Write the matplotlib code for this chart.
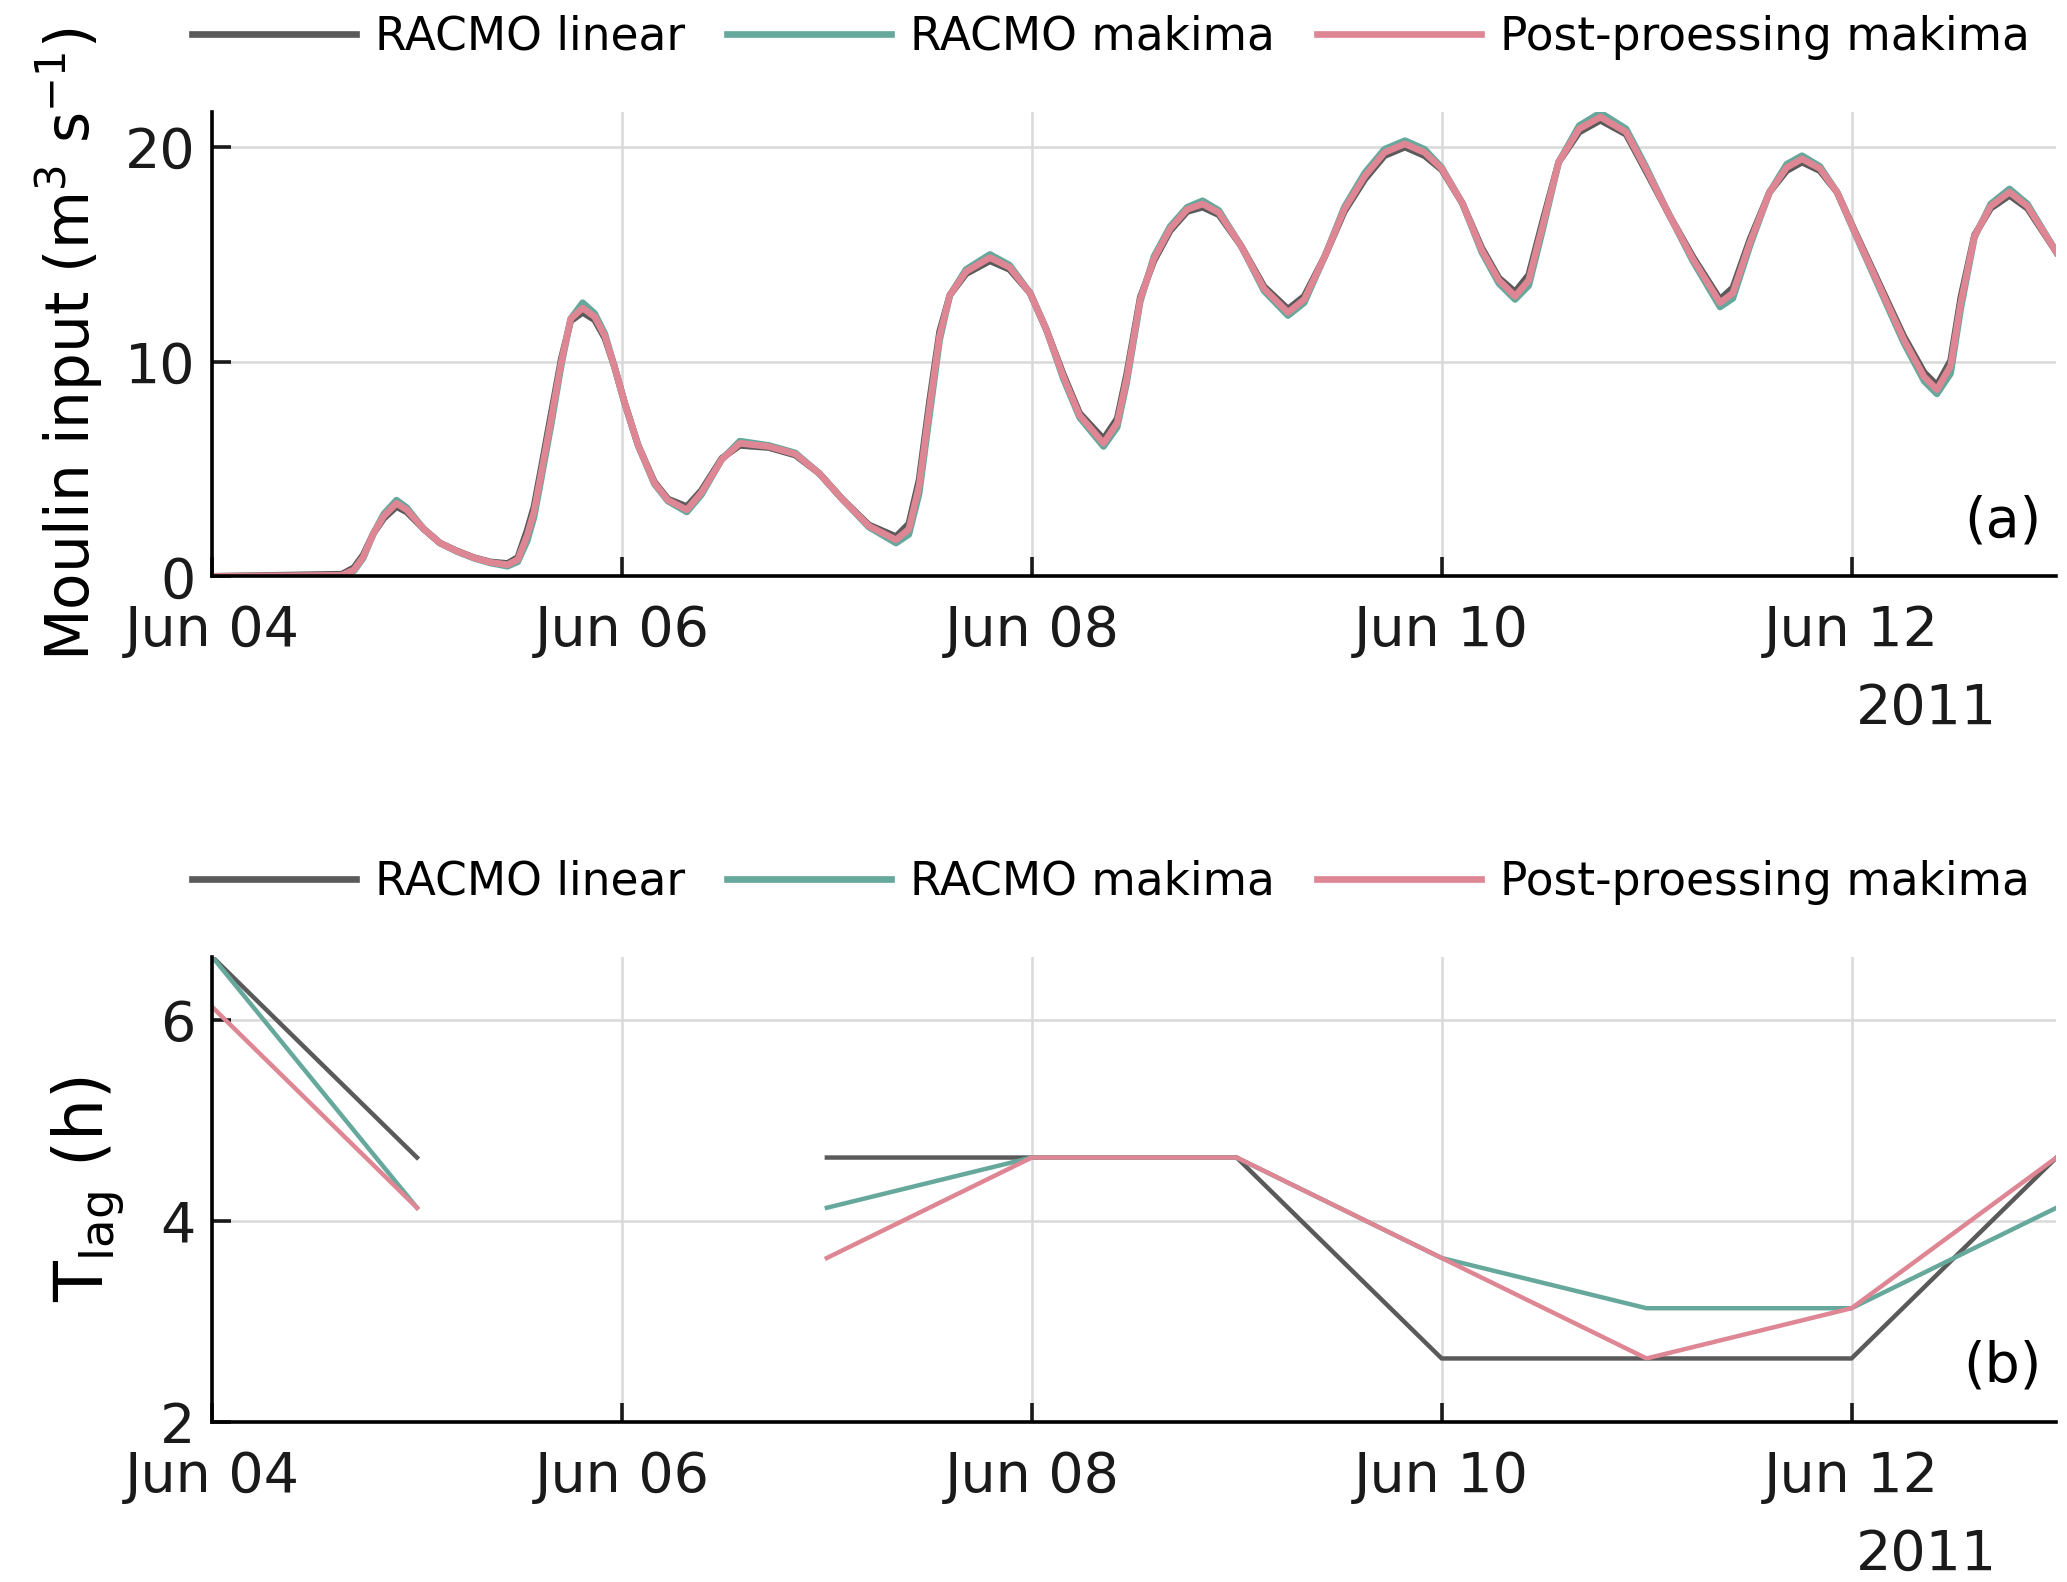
import numpy as np
import matplotlib
matplotlib.use("Agg")
import matplotlib.pyplot as plt
import matplotlib.dates as mdates
from datetime import datetime

# ---------------- data ---------------------------------------
start = datetime(2011, 6, 4)

# hours after Jun 04 00:00 for the moulin input curves
hours = [0, 15.2, 16.6, 17.7, 18.9, 20.1, 21.6, 22.8, 24.8, 26.7, 28.7, 30.7, 32.6,
         34.6, 35.8, 36.9, 37.7, 38.5, 39.7, 40.9, 42.0, 43.4, 44.8, 46.0, 47.1,
         48.3, 49.9, 51.8, 53.4, 55.6, 57.3, 59.7, 61.8, 65.2, 68.3, 71.1, 73.8,
         76.9, 80.1, 81.6, 82.8, 84.0, 85.2, 86.4, 88.3, 91.1, 93.4, 95.8, 97.7,
         99.7, 101.6, 104.4, 106.0, 107.1, 108.7, 110.3, 112.2, 114.2, 116.0,
         117.9, 120.5, 123.2, 126.0, 127.9, 130.3, 132.6, 135.0, 137.3, 139.7,
         142.0, 144.0, 146.4, 148.7, 150.7, 152.6, 154.2, 155.8, 157.7, 160.1,
         162.6, 165.6, 167.9, 170.7, 173.4, 176.6, 178.1, 180.1, 182.4, 184.4,
         186.2, 188.3, 190.3, 192.6, 195.4, 198.1, 200.5, 202.0, 203.6, 204.8,
         206.4, 208.3, 210.5, 212.6, 216.0]

q_post = [0, 0.05, 0.3, 0.9, 2.0, 2.8, 3.4, 3.1, 2.2, 1.55, 1.17, 0.86, 0.65,
          0.54, 0.78, 1.9, 3.0, 4.7, 7.3, 10.0, 12.0, 12.5, 12.1, 11.2, 9.8,
          8.1, 6.1, 4.35, 3.55, 3.1, 3.9, 5.45, 6.2, 6.05, 5.7, 4.8, 3.6,
          2.35, 1.7, 2.2, 4.2, 7.8, 11.2, 13.1, 14.2, 14.85, 14.4, 13.2, 11.5,
          9.3, 7.5, 6.2, 7.15, 9.2, 12.9, 14.8, 16.2, 17.1, 17.35,
          16.95, 15.4, 13.4, 12.3, 12.9, 14.9, 17.1, 18.65, 19.75, 20.15,
          19.75, 19.0, 17.4, 15.2, 13.8, 13.05, 13.8, 16.3, 19.3, 20.85,
          21.4, 20.7, 19.0, 16.8, 14.8, 12.75, 13.2, 15.55, 17.9, 19.05,
          19.45, 19.0, 17.9, 15.85, 13.4, 11.05, 9.3, 8.7, 9.8, 12.75,
          15.85, 17.25, 17.9, 17.25, 15.1]

q_makima = [0, 0.0, 0.25, 0.85, 2.0, 2.9, 3.55, 3.2, 2.2, 1.55, 1.15, 0.84, 0.62,
            0.47, 0.68, 1.65, 2.75, 4.45, 7.05, 9.85, 12.0, 12.75, 12.25, 11.3, 9.8,
            8.1, 6.1, 4.3, 3.5, 3.0, 3.8, 5.45, 6.3, 6.1, 5.75, 4.8, 3.6,
            2.3, 1.55, 1.95, 3.85, 7.45, 11.0, 13.1, 14.3, 15.0, 14.5, 13.2, 11.5,
            9.2, 7.4, 6.05, 6.95, 9.0, 12.8, 14.9, 16.3, 17.2, 17.5,
            17.05, 15.4, 13.3, 12.15, 12.75, 14.9, 17.2, 18.8, 19.9, 20.3,
            19.9, 19.05, 17.4, 15.1, 13.65, 12.9, 13.55, 16.1, 19.3, 21.0,
            21.6, 20.85, 19.1, 16.8, 14.7, 12.55, 12.95, 15.4, 17.9, 19.2,
            19.6, 19.1, 17.9, 15.8, 13.3, 10.9, 9.1, 8.5, 9.45, 12.5,
            15.8, 17.35, 18.05, 17.35, 15.1]

q_linear = [0, 0.1, 0.4, 1.0, 2.0, 2.7, 3.25, 3.0, 2.2, 1.55, 1.18, 0.87, 0.67,
            0.6, 0.88, 2.15, 3.25, 4.95, 7.55, 10.15, 11.9, 12.3, 11.95, 11.1, 9.8,
            8.1, 6.1, 4.4, 3.6, 3.25, 4.0, 5.5, 6.1, 6.0, 5.65, 4.8, 3.6,
            2.4, 1.85, 2.45, 4.5, 8.1, 11.4, 13.1, 14.1, 14.7, 14.3, 13.2, 11.5,
            9.4, 7.6, 6.4, 7.35, 9.4, 13.0, 14.7, 16.1, 17.0, 17.2,
            16.85, 15.4, 13.5, 12.45, 13.05, 14.9, 17.0, 18.5, 19.6, 20.0,
            19.6, 18.95, 17.4, 15.3, 13.9, 13.25, 14.05, 16.5, 19.3, 20.7,
            21.25, 20.6, 18.9, 16.8, 14.9, 12.9, 13.45, 15.7, 17.9, 18.9,
            19.3, 18.9, 17.9, 15.9, 13.5, 11.2, 9.5, 8.9, 10.05, 13.0,
            15.9, 17.15, 17.75, 17.15, 15.1]

# daily lag time (h), gap on Jun 06
lag_days = [0, 1, 2, 3, 4, 5, 6, 7, 8, 9]
lag_linear = [6.63, 4.63, np.nan, 4.63, 4.63, 4.63, 2.63, 2.63, 2.63, 4.63]
lag_makima = [6.63, 4.13, np.nan, 4.13, 4.63, 4.63, 3.63, 3.13, 3.13, 4.13]
lag_post = [6.13, 4.13, np.nan, 3.63, 4.63, 4.63, 3.63, 2.63, 3.13, 4.63]

labels = ['RACMO linear', 'RACMO makima', 'Post-proessing makima']
colors = ['#5a5a5a', '#66a89c', '#de8693']

# -------------------------------------------------------------
t0 = mdates.date2num(start)
x_q = t0 + np.array(hours) / 24.0
x_lag = t0 + np.array(lag_days, dtype=float)

plt.rcParams['font.family'] = 'DejaVu Sans'
plt.rcParams['mathtext.fontset'] = 'dejavusans'

fig = plt.figure(figsize=(10.335, 7.91), dpi=200)
ax1 = fig.add_axes([0.1026, 0.6357, 0.8923, 0.2937])
ax2 = fig.add_axes([0.1026, 0.1013, 0.8923, 0.2940])

ax1.plot(x_q, q_linear, color=colors[0], lw=2.4, label=labels[0])
ax1.plot(x_q, q_makima, color=colors[1], lw=2.4, label=labels[1])
ax1.plot(x_q, q_post, color=colors[2], lw=2.4, label=labels[2])
ax1.set_ylim(0, 21.65)
ax1.set_yticks([0, 10, 20])
ax1.set_ylabel(r'Moulin input (m$^{3}$ s$^{-1}$)', fontsize=21.5, labelpad=7)
ax1.text(0.992, 0.06, '(a)', transform=ax1.transAxes, ha='right', va='bottom', fontsize=20)

ax2.plot(x_lag, lag_linear, color=colors[0], lw=1.6, label=labels[0])
ax2.plot(x_lag, lag_makima, color=colors[1], lw=1.6, label=labels[1])
ax2.plot(x_lag, lag_post, color=colors[2], lw=1.6, label=labels[2])
ax2.set_ylim(2, 6.63)
ax2.set_yticks([2, 4, 6])
ax2.set_ylabel(r'T$_{\mathrm{lag}}$ (h)', fontsize=24, labelpad=12)
ax2.text(0.992, 0.06, '(b)', transform=ax2.transAxes, ha='right', va='bottom', fontsize=20)

for ax in (ax1, ax2):
    ax.set_xlim(t0, t0 + 9)
    ax.xaxis.set_major_locator(mdates.DayLocator(bymonthday=[4, 6, 8, 10, 12]))
    ax.xaxis.set_major_formatter(mdates.DateFormatter('%b %d'))
    ax.grid(True, color='#d9d9d9', lw=0.9)
    ax.set_axisbelow(True)
    ax.spines['top'].set_visible(False)
    ax.spines['right'].set_visible(False)
    ax.spines['left'].set_linewidth(1.3)
    ax.spines['bottom'].set_linewidth(1.3)
    ax.tick_params(direction='in', length=7, width=1.3, labelsize=20, colors='#1a1a1a')
    ax.tick_params(axis='x', pad=10)
    ax.tick_params(axis='y', pad=6)
    ax.text(0.968, -0.285, '2011', transform=ax.transAxes, ha='right', va='center',
            fontsize=20, color='#1a1a1a')
    leg = ax.legend(loc='center', bbox_to_anchor=(0.4875, 1.16), ncol=3, frameon=False,
                    fontsize=16.4, handlelength=3.6, handletextpad=0.42, columnspacing=0.92)
    for h in leg.get_lines():
        h.set_linewidth(2.4)

fig.savefig('out.png', dpi=200)
